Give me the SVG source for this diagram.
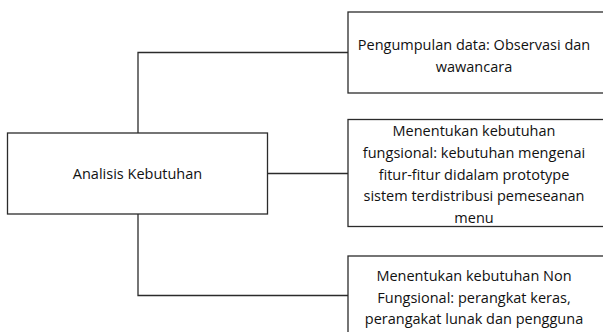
<svg xmlns="http://www.w3.org/2000/svg" width="603" height="332" viewBox="0 0 603 332">
<style>
.box{fill:#fff;stroke:#2b2b2b;stroke-width:1.3}
.conn{fill:none;stroke:#2b2b2b;stroke-width:1.3}
text{font-family:"Open Sans","Liberation Sans",sans-serif;font-size:14.5px;fill:#111;text-anchor:middle}
</style>
<rect width="603" height="332" fill="#fff"/>
<g id="connectors">
<polyline class="conn" points="348,52.5 138,52.5 138,295.5 348,295.5"/>
<line class="conn" x1="267.5" y1="173.5" x2="348" y2="173.5"/>
</g>
<g id="analisis">
<rect class="box" x="7.5" y="133" width="260" height="81"/>
<text x="137.5" y="178.5">Analisis Kebutuhan</text>
</g>
<g id="pengumpulan">
<rect class="box" x="348" y="12" width="270" height="81"/>
<text x="474" y="50">Pengumpulan data: Observasi dan</text>
<text x="474" y="72">wawancara</text>
</g>
<g id="fungsional">
<rect class="box" x="348" y="119.5" width="270" height="107"/>
<text x="474" y="136">Menentukan kebutuhan</text>
<text x="474" y="158">fungsional: kebutuhan mengenai</text>
<text x="474" y="179.5">fitur-fitur didalam prototype</text>
<text x="474" y="201">sistem terdistribusi pemeseanan</text>
<text x="474" y="222.5">menu</text>
</g>
<g id="nonfungsional">
<rect class="box" x="348" y="256" width="270" height="90"/>
<text x="474" y="281">Menentukan kebutuhan Non</text>
<text x="474" y="303">Fungsional: perangkat keras,</text>
<text x="474" y="324">perangakat lunak dan pengguna</text>
</g>
</svg>
